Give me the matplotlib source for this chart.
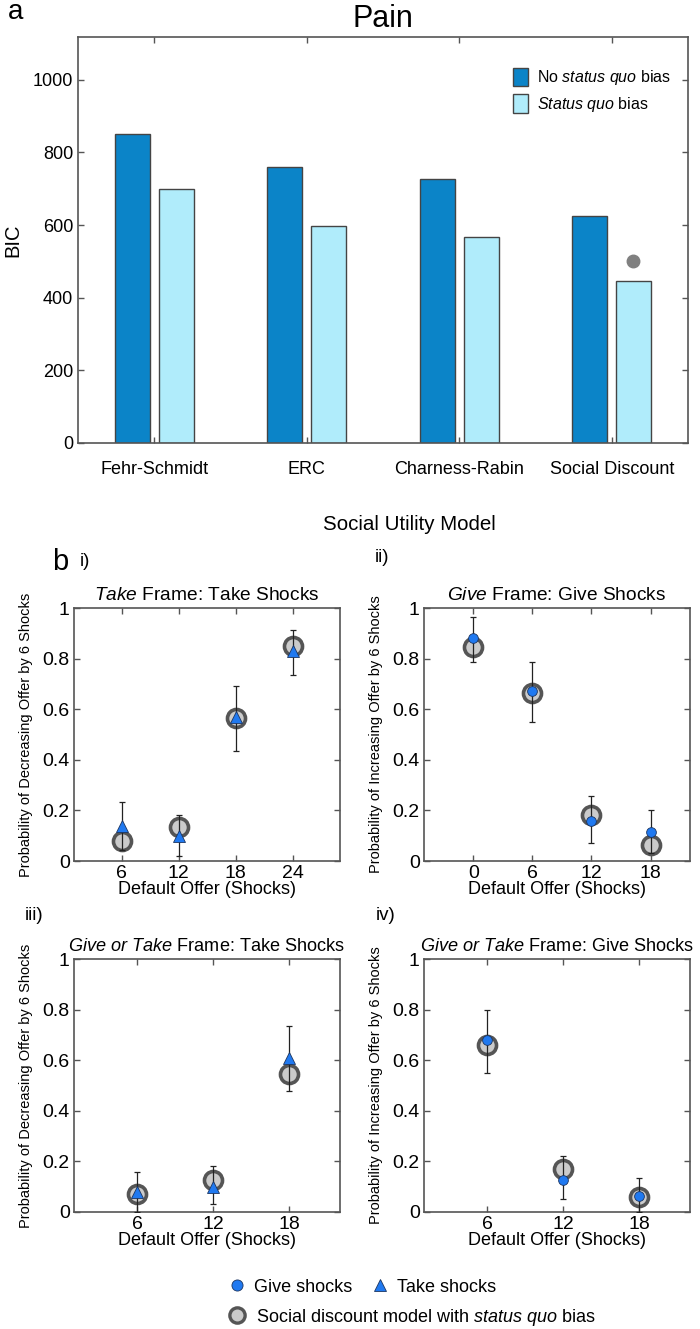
import numpy as np
import matplotlib
matplotlib.use("Agg")
import matplotlib.pyplot as plt
from matplotlib.lines import Line2D

plt.rcParams["font.family"] = ["Liberation Sans", "DejaVu Sans"]
plt.rcParams["mathtext.fontset"] = "custom"
plt.rcParams["mathtext.rm"] = "Liberation Sans"
plt.rcParams["mathtext.it"] = "Liberation Sans:italic"

# ---- panel a data ----
models = ["Fehr-Schmidt", "ERC", "Charness-Rabin", "Social Discount"]
bic_no_sq = [850, 760, 728, 624]
bic_sq = [700, 597, 568, 445]
best_marker_value = 500

# ---- panel b data ----
# i) Take frame: take shocks
offers_i = [6, 12, 18, 24]
take_i = [0.14, 0.10, 0.57, 0.83]
take_i_lo = [0.045, 0.02, 0.435, 0.735]
take_i_hi = [0.235, 0.18, 0.69, 0.915]
model_i = [0.08, 0.135, 0.565, 0.85]

# ii) Give frame: give shocks
offers_ii = [0, 6, 12, 18]
give_ii = [0.88, 0.67, 0.16, 0.115]
give_ii_lo = [0.785, 0.55, 0.07, 0.03]
give_ii_hi = [0.965, 0.785, 0.255, 0.20]
model_ii = [0.845, 0.665, 0.18, 0.065]

# iii) Give or Take frame: take shocks
offers_iii = [6, 12, 18]
take_iii = [0.08, 0.10, 0.61]
take_iii_lo = [0.0, 0.03, 0.48]
take_iii_hi = [0.16, 0.18, 0.735]
model_iii = [0.07, 0.125, 0.545]

# iv) Give or Take frame: give shocks
offers_iv = [6, 12, 18]
give_iv = [0.68, 0.125, 0.065]
give_iv_lo = [0.55, 0.05, 0.0]
give_iv_hi = [0.80, 0.22, 0.135]
model_iv = [0.66, 0.17, 0.06]

dark_blue = "#0b84c8"
light_blue = "#b0ecfb"
marker_blue = "#2079f0"
spine_col = "#555555"

W, H = 700, 1329
fig = plt.figure(figsize=(W / 100, H / 100), dpi=100)


def box(l, t, r, b):
    return [l / W, 1 - b / H, (r - l) / W, (b - t) / H]


def style_axes(ax):
    for s in ax.spines.values():
        s.set_color(spine_col)
        s.set_linewidth(1.2)
    ax.tick_params(direction="in", top=True, right=True, length=4,
                   color=spine_col, width=1)


# ---------------- panel a ----------------
ax = fig.add_axes(box(78, 37, 688, 443))
style_axes(ax)
x = np.arange(1, len(models) + 1)
bw = 0.23
ax.bar(x - 0.145, bic_no_sq, bw, color=dark_blue, edgecolor="#444444",
       linewidth=1, label="No $\\it{status\\ quo}$ bias")
ax.bar(x + 0.145, bic_sq, bw, color=light_blue, edgecolor="#444444",
       linewidth=1, label="$\\it{Status\\ quo}$ bias")
ax.plot([x[-1] + 0.14], [best_marker_value], "o", color="#808080",
        markersize=9)
ax.set_xlim(0.5, 4.5)
ax.set_ylim(0, 1118)
ax.set_yticks([0, 200, 400, 600, 800, 1000])
ax.set_xticks(x)
ax.set_xticklabels(models)
ax.tick_params(axis="x", pad=13, labelsize=13)
ax.tick_params(axis="y", labelsize=13)
ax.set_ylabel("BIC", fontsize=14.5)
ax.yaxis.set_label_coords(-0.092, 0.5)
ax.set_xlabel("Social Utility Model", fontsize=14.8)
ax.xaxis.set_label_coords(0.544, -0.178)
ax.set_title("Pain", fontsize=22, pad=7)
ax.legend(loc="upper left", bbox_to_anchor=(0.69, 0.96), frameon=False,
          fontsize=11.5, handlelength=0.9, handleheight=1.4,
          handletextpad=0.6, labelspacing=0.45)

fig.text(8 / W, 1 - 12 / H, "a", fontsize=20, va="center")


# ---------------- panel b ----------------
def draw_panel(rect, offers, data, lo, hi, model, marker, title, ylabel,
               xlim, msize, title_size):
    ax = fig.add_axes(rect)
    style_axes(ax)
    ax.plot(offers, model, "o", markersize=13, markerfacecolor="#cbcbcb",
            markeredgecolor="#555555", markeredgewidth=2.6, zorder=2)
    data = np.array(data)
    yerr = [data - np.array(lo), np.array(hi) - data]
    ax.errorbar(offers, data, yerr=yerr, fmt="none", ecolor="#222222",
                elinewidth=0.9, capsize=2, capthick=0.9, zorder=3)
    ax.plot(offers, data, marker, linestyle="none", markersize=msize,
            markerfacecolor=marker_blue, markeredgecolor="#1c3560",
            markeredgewidth=0.6, zorder=4)
    ax.set_xlim(*xlim)
    ax.set_ylim(0, 1)
    ax.set_xticks(offers)
    ax.set_yticks([0, 0.2, 0.4, 0.6, 0.8, 1])
    ax.set_yticklabels(["0", "0.2", "0.4", "0.6", "0.8", "1"])
    ax.tick_params(labelsize=14, pad=3)
    ax.set_title(title, fontsize=title_size, pad=6)
    ax.set_ylabel(ylabel, fontsize=10.5)
    ax.yaxis.set_label_coords(-0.153, 0.5)
    ax.set_xlabel("Default Offer (Shocks)", fontsize=13, labelpad=-1)
    return ax


dec_label = "Probability of Decreasing Offer by 6 Shocks"
inc_label = "Probability of Increasing Offer by 6 Shocks"

draw_panel(box(74, 608, 340, 861), offers_i, take_i, take_i_lo, take_i_hi,
           model_i, "^", "$\\it{Take}$ Frame: Take Shocks", dec_label,
           (1, 29), 8, 13.8)
draw_panel(box(424, 608, 690, 861), offers_ii, give_ii, give_ii_lo,
           give_ii_hi, model_ii, "o", "$\\it{Give}$ Frame: Give Shocks",
           inc_label, (-5, 22), 7, 13.8)
draw_panel(box(74, 959, 340, 1212), offers_iii, take_iii, take_iii_lo,
           take_iii_hi, model_iii, "^",
           "$\\it{Give\\ or\\ Take}$ Frame: Take Shocks", dec_label,
           (1, 22), 8, 13.1)
draw_panel(box(424, 959, 690, 1212), offers_iv, give_iv, give_iv_lo,
           give_iv_hi, model_iv, "o",
           "$\\it{Give\\ or\\ Take}$ Frame: Give Shocks", inc_label,
           (1, 22), 7, 13.1)

fig.text(52 / W, 1 - 562 / H, "b", fontsize=21, va="center")
fig.text(80 / W, 1 - 562 / H, "i)", fontsize=13.5, va="center")
fig.text(375 / W, 1 - 557 / H, "ii)", fontsize=13.5, va="center")
fig.text(25 / W, 1 - 916 / H, "iii)", fontsize=13.5, va="center")
fig.text(376 / W, 1 - 916 / H, "iv)", fontsize=13.5, va="center")

# ---------------- bottom legend ----------------
h_give = Line2D([], [], marker="o", linestyle="none", markersize=8,
                markerfacecolor=marker_blue, markeredgecolor="#1c3560",
                markeredgewidth=0.6)
h_take = Line2D([], [], marker="^", linestyle="none", markersize=9,
                markerfacecolor=marker_blue, markeredgecolor="#1c3560",
                markeredgewidth=0.6)
h_model = Line2D([], [], marker="o", linestyle="none", markersize=11,
                 markerfacecolor="#cbcbcb", markeredgecolor="#555555",
                 markeredgewidth=2.4)
fig.legend([h_give, h_take], ["Give shocks", "Take shocks"],
           loc="center left", bbox_to_anchor=(212 / W, 1 - 1287 / H),
           ncol=2, frameon=False, fontsize=13, handlelength=1,
           handletextpad=0.45, columnspacing=1.0)
fig.legend([h_model], ["Social discount model with $\\it{status\\ quo}$ bias"],
           loc="center left", bbox_to_anchor=(212 / W, 1 - 1317 / H),
           frameon=False, fontsize=13, handlelength=1, handletextpad=0.55)

fig.savefig("out.png", dpi=100)
